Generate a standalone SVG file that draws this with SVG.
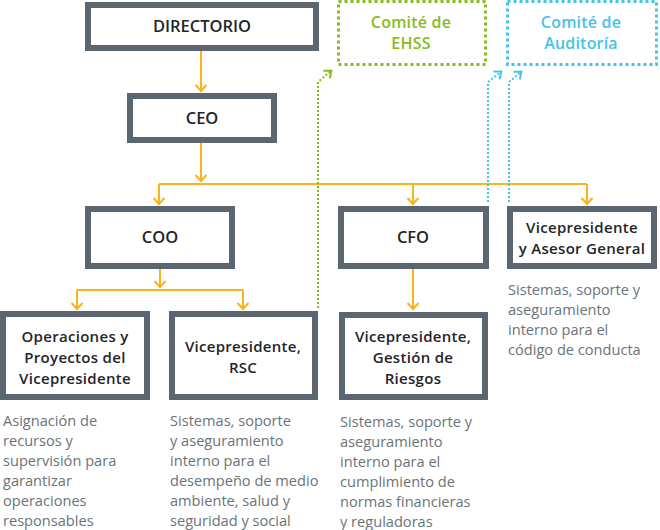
<svg xmlns="http://www.w3.org/2000/svg" width="660" height="530" viewBox="0 0 660 530">
<style>
.box{fill:#fff;stroke:#5b6670;stroke-width:6}
.t{font-family:"Open Sans","Liberation Sans",sans-serif;font-size:15px;letter-spacing:0.3px;font-weight:600;fill:#1f252b;text-anchor:middle}
.tl{font-size:16.5px;letter-spacing:0}
.d{font-family:"Open Sans","Liberation Sans",sans-serif;font-size:14.6px;fill:#6b7379}
.or{fill:none;stroke:#fbb31b;stroke-width:2}
.gd{fill:none;stroke:#86bc1f;stroke-width:2;stroke-dasharray:2 2}
.bd{fill:none;stroke:#45c3ea;stroke-width:2;stroke-dasharray:2 2}
.gbox{fill:#fff;stroke:#86bc1f;stroke-width:3;stroke-dasharray:3 3}
.bbox{fill:#fff;stroke:#45c3ea;stroke-width:3;stroke-dasharray:3 3}
.ct{font-family:"Open Sans","Liberation Sans",sans-serif;font-size:16px;letter-spacing:0.2px;font-weight:600;text-anchor:middle}
</style>
<defs>
<marker id="ao" viewBox="-1 -7 10 14" refX="7" refY="0" markerWidth="10" markerHeight="14" markerUnits="userSpaceOnUse" orient="auto"><path d="M0,-5.5 L6,0 L0,5.5" fill="none" stroke="#fbb31b" stroke-width="2"/></marker>
<marker id="ag" viewBox="-1 -7 10 14" refX="7" refY="0" markerWidth="10" markerHeight="14" markerUnits="userSpaceOnUse" orient="auto"><path d="M0,-5 L6,0 L0,5" fill="none" stroke="#86bc1f" stroke-width="2"/></marker>
<marker id="ab" viewBox="-1 -7 10 14" refX="7" refY="0" markerWidth="10" markerHeight="14" markerUnits="userSpaceOnUse" orient="auto"><path d="M0,-5 L6,0 L0,5" fill="none" stroke="#45c3ea" stroke-width="2"/></marker>
</defs>
<g id="connectors">
<path class="or" d="M201,51 V92" marker-end="url(#ao)"/>
<path class="or" d="M201,143 V182" marker-end="url(#ao)"/>
<path class="or" d="M159,184 H587"/>
<path class="or" d="M159,184 V205" marker-end="url(#ao)"/>
<path class="or" d="M413,184 V205" marker-end="url(#ao)"/>
<path class="or" d="M587,184 V205" marker-end="url(#ao)"/>
<path class="or" d="M160,269 V288" marker-end="url(#ao)"/>
<path class="or" d="M77,290 H243"/>
<path class="or" d="M77,290 V310" marker-end="url(#ao)"/>
<path class="or" d="M243,290 V310" marker-end="url(#ao)"/>
<path class="or" d="M413,269 V310" marker-end="url(#ao)"/>
<path class="gd" d="M318,308 V82 L332,70" marker-end="url(#ag)"/>
<path class="bd" d="M488,202 V82 L502,71" marker-end="url(#ab)"/>
<path class="bd" d="M509,202 V82 L522,71" marker-end="url(#ab)"/>
</g>
<g id="directorio"><rect class="box" x="88" y="5" width="228" height="43"/><text class="t tl" x="202" y="32">DIRECTORIO</text></g>
<g id="ceo"><rect class="box" x="130" y="96" width="144" height="44"/><text class="t tl" x="202" y="124">CEO</text></g>
<g id="comite-ehss"><rect class="gbox" x="338.5" y="1.5" width="147" height="63"/><text class="ct" fill="#86bc1f"><tspan x="411" y="27.5">Comité de</tspan><tspan x="411" y="49">EHSS</tspan></text></g>
<g id="comite-auditoria"><rect class="bbox" x="507.5" y="1.5" width="149" height="63"/><text class="ct" fill="#45c3ea"><tspan x="581" y="27.5">Comité de</tspan><tspan x="581" y="49">Auditoría</tspan></text></g>
<g id="coo"><rect class="box" x="88" y="209" width="144" height="57"/><text class="t tl" x="160" y="243">COO</text></g>
<g id="cfo"><rect class="box" x="341" y="209" width="145" height="57"/><text class="t tl" x="413" y="243">CFO</text></g>
<g id="vp-asesor"><rect class="box" x="510" y="209" width="144" height="57"/><text class="t"><tspan x="582" y="233">Vicepresidente</tspan><tspan x="582" y="254">y Asesor General</tspan></text>
<text class="d"><tspan x="508" y="295">Sistemas, soporte y</tspan><tspan x="508" y="315">aseguramiento</tspan><tspan x="508" y="335">interno para el</tspan><tspan x="508" y="355">código de conducta</tspan></text></g>
<g id="vp-operaciones"><rect class="box" x="3" y="314" width="144" height="83"/><text class="t"><tspan x="75" y="342">Operaciones y</tspan><tspan x="75" y="363">Proyectos del</tspan><tspan x="75" y="384">Vicepresidente</tspan></text>
<text class="d"><tspan x="3" y="426">Asignación de</tspan><tspan x="3" y="446">recursos y</tspan><tspan x="3" y="466">supervisión para</tspan><tspan x="3" y="486">garantizar</tspan><tspan x="3" y="506">operaciones</tspan><tspan x="3" y="526">responsables</tspan></text></g>
<g id="vp-rsc"><rect class="box" x="172" y="314" width="143" height="83"/><text class="t"><tspan x="243" y="352">Vicepresidente,</tspan><tspan x="243" y="373">RSC</tspan></text>
<text class="d"><tspan x="170" y="426">Sistemas, soporte</tspan><tspan x="170" y="446">y aseguramiento</tspan><tspan x="170" y="466">interno para el</tspan><tspan x="170" y="486">desempeño de medio</tspan><tspan x="170" y="506">ambiente, salud y</tspan><tspan x="170" y="526">seguridad y social</tspan></text></g>
<g id="vp-riesgos"><rect class="box" x="342" y="315" width="143" height="82"/><text class="t"><tspan x="413" y="342">Vicepresidente,</tspan><tspan x="413" y="363">Gestión de</tspan><tspan x="413" y="384">Riesgos</tspan></text>
<text class="d"><tspan x="340" y="427">Sistemas, soporte y</tspan><tspan x="340" y="447">aseguramiento</tspan><tspan x="340" y="467">interno para el</tspan><tspan x="340" y="487">cumplimiento de</tspan><tspan x="340" y="507">normas financieras</tspan><tspan x="340" y="527">y reguladoras</tspan></text></g>
</svg>
